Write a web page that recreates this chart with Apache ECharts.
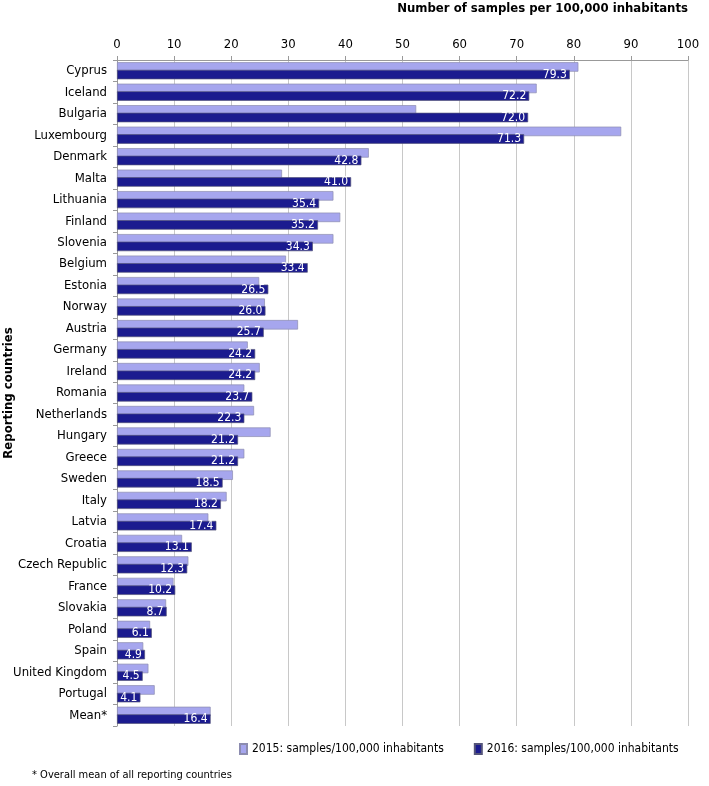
<!DOCTYPE html>
<html><head><meta charset="utf-8">
<script src="https://cdn.jsdelivr.net/npm/echarts@6/dist/echarts.min.js"></script>
<style>html,body{margin:0;padding:0;background:#fff}#c{width:709px;height:786px}</style>
</head><body><div id="c"></div>
<script>
const categories = ["Cyprus","Iceland","Bulgaria","Luxembourg","Denmark","Malta","Lithuania","Finland","Slovenia","Belgium","Estonia","Norway","Austria","Germany","Ireland","Romania","Netherlands","Hungary","Greece","Sweden","Italy","Latvia","Croatia","Czech Republic","France","Slovakia","Poland","Spain","United Kingdom","Portugal","Mean*"];
const values2015 = [80.8,73.5,52.4,88.3,44.1,28.9,37.9,39.1,37.9,29.6,24.9,25.9,31.7,22.9,25.0,22.3,24.0,26.9,22.3,20.3,19.2,16.0,11.4,12.5,9.9,8.6,5.8,4.6,5.5,6.6,16.4];
const values2016 = [79.3,72.2,72.0,71.3,42.8,41.0,35.4,35.2,34.3,33.4,26.5,26.0,25.7,24.2,24.2,23.7,22.3,21.2,21.2,18.5,18.2,17.4,13.1,12.3,10.2,8.7,6.1,4.9,4.5,4.1,16.4];
const seriesNames = ["2015: samples/100,000 inhabitants","2016: samples/100,000 inhabitants"];
const xTitle = "Number of samples per 100,000 inhabitants";
const yTitle = "Reporting countries";
const footnote = "* Overall mean of all reporting countries";

const font = "'DejaVu Sans Condensed', 'DejaVu Sans', sans-serif";
const chart = echarts.init(document.getElementById('c'));
chart.setOption({
  animation: false,
  textStyle: {fontFamily: font},
  title: [
    {text: xTitle, right: 16, top: -3, textStyle: {fontFamily: font, fontWeight: 'bold', fontSize: 13, color: '#000'}},
    {text: footnote, left: 27, top: 765, textStyle: {fontFamily: font, fontWeight: 'normal', fontSize: 11, color: '#000'}}
  ],
  legend: {
    data: seriesNames, left: 234, top: 738, itemWidth: 7, itemHeight: 10, itemGap: 30, icon: 'rect',
    textStyle: {fontFamily: font, fontSize: 12, color: '#000'}
  },
  grid: {left: 117, right: 21, top: 60, bottom: 60, outerBoundsMode: 'none', containLabel: false},
  xAxis: {
    type: 'value', position: 'top', min: 0, max: 100, interval: 10,
    axisLine: {show: true, lineStyle: {color: '#999'}},
    axisTick: {show: true, length: 4, lineStyle: {color: '#999'}},
    axisLabel: {fontSize: 13, color: '#000', margin: 9, fontFamily: font},
    splitLine: {show: true, lineStyle: {color: '#c8c8c8', width: 1}}
  },
  yAxis: {
    type: 'category', data: categories, inverse: true,
    name: yTitle, nameLocation: 'middle', nameGap: 102, nameRotate: 90, nameMoveOverlap: false,
    nameTextStyle: {fontFamily: font, fontWeight: 'bold', fontSize: 13, color: '#000'},
    axisLine: {show: true, lineStyle: {color: '#999'}},
    axisTick: {show: true, length: 4, lineStyle: {color: '#999'}},
    axisLabel: {fontSize: 13, color: '#000', margin: 10, fontFamily: font}
  },
  series: [
    {name: seriesNames[0], type: 'bar', data: values2015, barWidth: 9.5, barGap: '-20%',
     itemStyle: {color: '#a6a6ee', borderColor: '#8c8cb0', borderWidth: 0.7}},
    {name: seriesNames[1], type: 'bar', data: values2016, barWidth: 9.5,
     itemStyle: {color: '#1b1b8f', borderColor: '#55557a', borderWidth: 0.7},
     label: {show: true, position: 'insideRight', color: '#fff', fontSize: 12, fontFamily: font, distance: 3,
       formatter: p => p.value.toFixed(1)}}
  ]
});
</script></body></html>
